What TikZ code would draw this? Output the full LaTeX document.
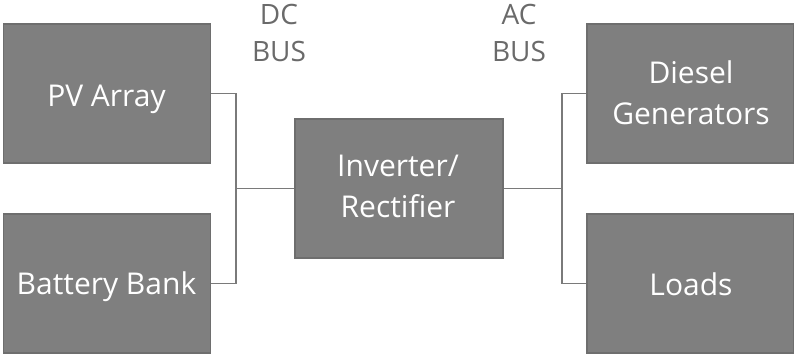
\documentclass[tikz,border=0pt]{standalone}
\usepackage{fontspec}
\setmainfont{Open Sans}
\definecolor{boxfill}{HTML}{7F7F7F}
\definecolor{boxedge}{HTML}{6E6E6E}
\definecolor{linec}{HTML}{7A7A7A}
\definecolor{labelc}{HTML}{6A6A6A}
\begin{document}
\begin{tikzpicture}[x=1pt,y=-1pt,
  blk/.style={draw=boxedge,line width=1.2pt,fill=boxfill,inner sep=0pt,
    minimum width=207pt,minimum height=139pt},
  blktext/.style={text=white,font=\fontsize{30}{41}\selectfont,align=center,
    inner sep=0pt,anchor=base},
  bus/.style={draw=linec,line width=1.5pt},
  buslabel/.style={text=labelc,font=\fontsize{28}{37.7}\selectfont,align=center,
    inner sep=0pt,anchor=base}]
\useasboundingbox (0,0) rectangle (794,354);
\node[blk] (pv) at (107,93.5) {};
\node[blk] (bat) at (107,283.5) {};
\node[blk,minimum width=208pt] (inv) at (399,188.5) {};
\node[blk] (dg) at (690.5,93.5) {};
\node[blk] (ld) at (690.5,283.5) {};
\node[blktext] (pvt) at (106.5,106) {PV Array};
\node[blktext] (batt) at (106.5,294) {Battery Bank};
\node[blktext] (invt) at (398,217) {Inverter/\\Rectifier};
\node[blktext] (dgt) at (691,124.3) {Diesel\\Generators};
\node[blktext] (ldt) at (691,295) {Loads};
\node[buslabel] (dc) at (279,61.7) {DC\\BUS};
\node[buslabel] (ac) at (519,61.7) {AC\\BUS};
\coordinate (dcx) at (236,188.5);
\coordinate (acx) at (562,188.5);
\draw[bus] (pv.east) -| (dcx) |- (bat.east);
\draw[bus] (dcx) -- (inv.west);
\draw[bus] (dg.west) -| (acx) |- (ld.west);
\draw[bus] (acx) -- (inv.east);
\end{tikzpicture}
\end{document}
